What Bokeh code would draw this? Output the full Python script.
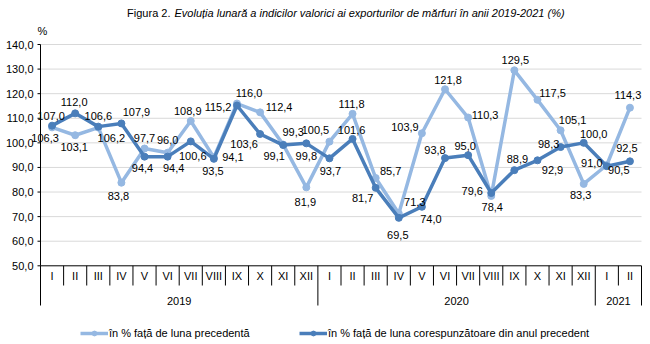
import numpy as np
from bokeh.plotting import figure
from bokeh.models import Range1d, Legend, LegendItem
from bokeh.core.properties import value
from bokeh.embed import file_html
from bokeh.resources import INLINE

# ---------------- data ----------------
years = ["2019", "2020", "2021"]
year_months = [12, 12, 2]
month_labels = ["I", "II", "III", "IV", "V", "VI", "VII", "VIII", "IX", "X", "XI", "XII",
                "I", "II", "III", "IV", "V", "VI", "VII", "VIII", "IX", "X", "XI", "XII",
                "I", "II"]
prev_month = [106.3, 103.1, 106.2, 83.8, 97.7, 96.0, 108.9, 94.1, 116.0, 112.4, 99.3, 81.9,
              100.5, 111.8, 85.7, 71.3, 103.9, 121.8, 110.3, 78.4, 129.5, 117.5, 105.1, 83.3,
              91.0, 114.3]
prev_year = [107.0, 112.0, 106.6, 107.9, 94.4, 94.4, 100.6, 93.5, 115.2, 103.6, 99.1, 99.8,
             93.7, 101.6, 81.7, 69.5, 74.0, 93.8, 95.0, 79.6, 88.9, 92.9, 98.3, 100.0,
             90.5, 92.5]
series_names = ["în % față de luna precedentă",
                "în % față de luna corespunzătoare din anul precedent"]
y_ticks = [50, 60, 70, 80, 90, 100, 110, 120, 130, 140]
y_tick_labels = ["50,0", "60,0", "70,0", "80,0", "90,0", "100,0", "110,0", "120,0", "130,0", "140,0"]
title_lead = "Figura 2."
title_text = "Evoluția lunară a indicilor valorici ai exporturilor de mărfuri în anii 2019-2021 (%)"
unit_label = "%"

# ---------------- layout ----------------
W, H = 650, 344
LEFT, RIGHT = 40, 641
TOP_PX, BOT_PX = 44.0, 265.3          # pixel rows of the top and bottom ticks
n = len(month_labels)
sx = (RIGHT - LEFT) / n
sy = (BOT_PX - TOP_PX) / (y_ticks[-1] - y_ticks[0])

def py(px):
    return y_ticks[-1] - (px - TOP_PX) / sy

def pxx(px):
    return (px - LEFT) / sx

LIGHT = "#95B8E2"
DARK = "#4A7EBA"
FONT = "Liberation Sans"
FS = "11px"
TXT = dict(text_font=value(FONT), text_font_size=FS, text_color="black")

# label offsets in pixels (dx, dy; dy positive = down)
prev_off = [(-7, 11), (-1, 12), (13, 10), (-3, 13), (0, -11), (0, -13), (-3, -10), (19, 0),
            (12, -11), (19, -5), (10, -13), (-1, 15), (-14, -12), (-1, -10), (15, -7),
            (16, -11), (-17, -6), (3, -9), (17, -3), (1, 11), (1, -10), (15, -7), (12, -10),
            (-3, 11), (-15, -2), (-2, -13)]
yoy_off = [(-1, -10), (-1, -11), (0, -11), (15, -11), (-2, 11), (6, 11), (2, 15), (-1, 12),
           (-19, 2), (-16, 10), (-9, 11), (0, 13), (1, 13), (-1, -9), (-13, 10), (-1, 17),
           (9, 12), (-10, -8), (-3, -9), (-19, -2), (3, -11), (15, 10), (-12, -3), (10, -9),
           (12, 4), (-3, -13)]

p = figure(width=W, height=H, output_backend="svg", toolbar_location=None,
           x_axis_location=None, y_axis_location=None,
           x_range=Range1d(pxx(0), pxx(W)),
           y_range=Range1d(py(H), py(0)),
           min_border_left=0, min_border_right=0,
           min_border_top=0, min_border_bottom=0)
p.outline_line_color = None
p.background_fill_color = "white"
p.border_fill_color = "white"
p.grid.visible = False

ylo, yhi = y_ticks[0], y_ticks[-1]

# horizontal gridlines
p.segment(x0=[0] * (len(y_ticks) - 1), y0=y_ticks[1:], x1=[n] * (len(y_ticks) - 1),
          y1=y_ticks[1:], line_color="#D9D9D9", line_width=1)

# y axis line, ticks and labels
p.segment(x0=[0], y0=[ylo], x1=[0], y1=[yhi], line_color="black", line_width=1)
p.segment(x0=[-3 / sx] * len(y_ticks), y0=y_ticks, x1=[0] * len(y_ticks), y1=y_ticks,
          line_color="black", line_width=1)
p.text(x=[-7 / sx] * len(y_ticks), y=y_ticks, text=y_tick_labels,
       text_align="right", text_baseline="middle", **TXT)

# x axis line at the bottom tick
p.segment(x0=[0], y0=[ylo], x1=[n], y1=[ylo], line_color="black", line_width=1)

# category separators
bounds = np.arange(n + 1)
year_bounds = set(np.concatenate([[0], np.cumsum(year_months)]).tolist())
y_end = [py(305) if b in year_bounds else py(285) for b in bounds]
p.segment(x0=bounds, y0=[ylo] * (n + 1), x1=bounds, y1=y_end,
          line_color="black", line_width=1)

# month labels
xc = np.arange(n) + 0.5
p.text(x=xc, y=[py(275)] * n, text=month_labels,
       text_align="center", text_baseline="middle", **TXT)

# year labels
starts = np.concatenate([[0], np.cumsum(year_months)[:-1]])
ycent = [s + m / 2 for s, m in zip(starts, year_months)]
p.text(x=ycent, y=[py(300)] * len(years), text=years,
       text_align="center", text_baseline="middle", **TXT)

# series
r1 = p.line(xc, prev_month, line_color=LIGHT, line_width=3.5, line_join="round")
s1 = p.scatter(xc, prev_month, size=7, fill_color=LIGHT, line_color=LIGHT)
r2 = p.line(xc, prev_year, line_color=DARK, line_width=3.5, line_join="round")
s2 = p.scatter(xc, prev_year, size=7, fill_color=DARK, line_color=DARK)

def labels(vals, offs):
    lx = [x + dx / sx for x, (dx, dy) in zip(xc, offs)]
    ly = [v - dy / sy for v, (dx, dy) in zip(vals, offs)]
    txt = [f"{v:.1f}".replace(".", ",") for v in vals]
    p.text(x=lx, y=ly, text=txt, text_align="center", text_baseline="middle", **TXT)

labels(prev_month, prev_off)
labels(prev_year, yoy_off)

# % unit label
p.text(x=[pxx(42)], y=[py(30)], text=[unit_label],
       text_align="center", text_baseline="middle", **TXT)

# title
tx = pxx(170)
p.text(x=[tx], y=[py(12)], text=[title_lead],
       text_align="right", text_baseline="middle", **TXT)
p.text(x=[tx + 4 / sx], y=[py(12)], text=[title_text], text_font_style="italic",
       text_align="left", text_baseline="middle", **TXT)

# legends
for rs, name, lx in [([r1, s1], series_names[0], 80), ([r2, s2], series_names[1], 299)]:
    leg = Legend(items=[LegendItem(label=name, renderers=rs)], location=(lx, 5),
                 orientation="horizontal", padding=0, margin=0, spacing=0,
                 glyph_width=28, glyph_height=12, label_height=12, label_standoff=1,
                 label_text_font=FONT, label_text_font_size=FS, label_text_color="black",
                 border_line_color=None, background_fill_alpha=0)
    p.add_layout(leg)

open("out.html", "w").write(file_html(p, INLINE))
